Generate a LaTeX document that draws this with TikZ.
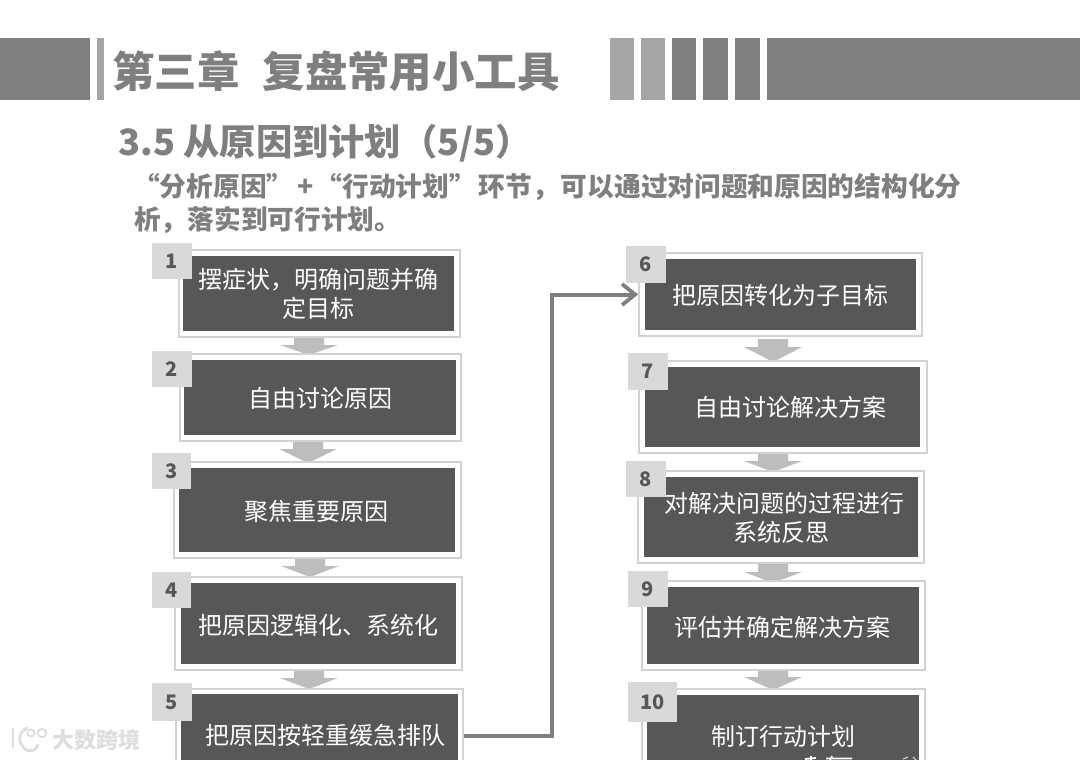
\documentclass[tikz,border=0pt]{standalone}
\usepackage{fontspec}
\setmainfont{Noto Sans CJK SC}
\usetikzlibrary{arrows.meta,calc}
\definecolor{bandgray}{HTML}{7F7F7F}
\definecolor{lightband}{HTML}{A6A6A6}
\definecolor{innergray}{HTML}{575757}
\definecolor{numgray}{HTML}{D9D9D9}
\definecolor{edgegray}{HTML}{D2D2D2}
\definecolor{arrowgray}{HTML}{BDBDBD}
\definecolor{markgray}{HTML}{DEDEDE}
\newcommand{\fs}[1]{\fontsize{#1}{#1}\selectfont}
\tikzset{
  x=1pt,y=-1pt,
  band/.style={fill=bandgray,draw=none},
  lband/.style={fill=lightband,draw=none},
  headtext/.style={text=bandgray,font=\fs{42.4}\bfseries,anchor=west,inner sep=0},
  subtext/.style={text=bandgray,font=\fs{36.3}\bfseries,anchor=west,inner sep=0},
  bodytext/.style={text=bandgray,font=\fs{26.7}\bfseries,anchor=west,inner sep=0},
  outerbox/.style={fill=white,draw=edgegray,line width=1.8pt,inner sep=0},
  innerbox/.style={fill=innergray,draw=none,inner sep=0},
  numbox/.style={fill=numgray,draw=none,inner sep=0,text=innergray,font=\fs{20}\bfseries},
  boxtext/.style={text=white,font=\fs{24},inner sep=0,align=center},
  blockarrow/.style={fill=arrowgray,draw=none},
  conn/.style={draw=bandgray,line width=4pt,-{Straight Barb[length=13pt,width=21pt,line width=3.8pt]}},
}
\newcommand{\stepboxat}[9]{%
  \node[outerbox,minimum width={(#4-#2)*1pt},minimum height={(#5-#3)*1pt}] (o#1) at ({(#2+#4)/2},{(#3+#5)/2}) {};
  \node[innerbox,minimum width={(#8-#6)*1pt},minimum height={(#9-#7)*1pt}] (i#1) at ({(#6+#8)/2},{(#7+#9)/2}) {};
}
\newcommand{\numat}[6]{%
  \node[numbox,minimum width={(#4-#2)*1pt},minimum height={(#5-#3)*1pt}] (n#1) at ({(#2+#4)/2},{(#3+#5)/2}) {#6};
}
\newcommand{\blockat}[5]{%
  \fill[blockarrow] ({#1-#2},#3) -- ({#1+#2},#3) -- ({#1+#2},#4) -- ({#1+29},#4) -- (#1,#5) -- ({#1-29},#4) -- ({#1-#2},#4) -- cycle;
}
\begin{document}
\begin{tikzpicture}
\useasboundingbox (0,0) rectangle (1080,760);
\clip (0,0) rectangle (1080,760);
\fill[white] (0,0) rectangle (1080,760);
% header
\fill[band] (0,38) rectangle (90,100);
\fill[lband] (97,38) rectangle (104,100);
\fill[lband] (610,38) rectangle (634,100);
\fill[lband] (641,38) rectangle (665,100);
\fill[band] (672,38) rectangle (696,100);
\fill[band] (703,38) rectangle (728,100);
\fill[band] (735,38) rectangle (760,100);
\fill[band] (766.5,38) rectangle (1080,100);
\node[headtext] (title) at (112,71) {第三章\hspace{0.55em}复盘常用小工具};
\node[subtext] (sub) at (118,143) {3.5 从原因到计划（5/5）};
\node[bodytext] (body1) at (133,187) {“分析原因”\hspace{4pt}+\hspace{2pt}“行动计划”\hspace{3pt}环节，\hspace{2pt}可以通过对问题和原因的结构化分};
\node[bodytext] (body2) at (134,220) {析，落实到可行计划。};
% block arrows
\blockat{309}{15}{337}{345}{355}
\blockat{308}{15}{441}{449}{463}
\blockat{310}{15}{558}{566}{577}
\blockat{309}{15}{670}{678}{689}
\blockat{773}{15}{339}{347}{362}
\blockat{773}{15}{453}{461}{472}
\blockat{773}{15}{563}{572}{583}
\blockat{773}{15}{670}{677}{690}
% boxes
\stepboxat{1}{179}{250}{460}{337}{183}{256}{454}{331}
\stepboxat{2}{180}{354}{461}{441}{184}{360}{456}{435}
\stepboxat{3}{174}{462}{461}{558}{179}{468}{455}{552}
\stepboxat{4}{175}{577}{462}{670}{181}{583}{456}{664}
\stepboxat{5}{176}{689}{463}{783}{181}{694}{458}{778}
\stepboxat{6}{639}{253}{922}{336}{645}{259}{916}{330}
\stepboxat{7}{639}{361}{927}{453}{645}{367}{920}{447}
\stepboxat{8}{638}{471}{924}{563}{644}{477}{918}{557}
\stepboxat{9}{642}{581}{925}{670}{647}{587}{919}{664}
\stepboxat{10}{642}{689}{925}{790}{647}{695}{919}{784}
% numbers
\numat{1}{152}{243}{192}{279}{1}
\numat{2}{152}{351}{192}{387}{2}
\numat{3}{152}{453}{191}{489}{3}
\numat{4}{152}{572}{191}{608}{4}
\numat{5}{152}{683}{192}{721}{5}
\numat{6}{626}{246}{666}{283}{6}
\numat{7}{628}{353}{668}{390}{7}
\numat{8}{626}{461}{666}{497}{8}
\numat{9}{628}{571}{668}{607}{9}
\numat{10}{628}{682}{677}{722}{10}
% texts
\node[boxtext] (t1a) at (318,280) {摆症状，明确问题并确};
\node[boxtext] (t1b) at (318,308) {定目标};
\node[boxtext] (t2) at (320,398) {自由讨论原因};
\node[boxtext] (t3) at (316,511) {聚焦重要原因};
\node[boxtext] (t4) at (318,625) {把原因逻辑化、系统化};
\node[boxtext] (t5) at (325,735) {把原因按轻重缓急排队};
\node[boxtext] (t6) at (780,295) {把原因转化为子目标};
\node[boxtext] (t7) at (790,407) {自由讨论解决方案};
\node[boxtext] (t8a) at (784,503) {对解决问题的过程进行};
\node[boxtext] (t8b) at (781,532) {系统反思};
\node[boxtext] (t9) at (782,627) {评估并确定解决方案};
\node[boxtext] (t10) at (783,736) {制订行动计划};
% connector
\coordinate (turn) at (552,294.5);
\draw[conn] (o5.east) -- (o5.east -| turn) -- (turn) -- (o6.west);
% clipped fragment at the bottom edge
\draw[white,line width=1.8pt] (805,759) -- (816,758) (811,756) -- (811,760) (826,758.5) -- (852,758.5) (832,756) -- (830,760);
\draw[white!70!innergray,line width=1.2pt] (903,759) -- (908,757) (913,757) -- (916,760);
% watermark
\node[text=markgray,font=\fs{22}\bfseries,anchor=west,inner sep=0] (mark) at (52,740) {大数跨境};
\draw[markgray,line width=2.8pt,line cap=round] (13,729) -- (13,747);
\draw[markgray,line width=2.8pt,line cap=round] (27,728) .. controls (18,733) and (17,742) .. (26,750) .. controls (32,752) and (36,750) .. (38,745);
\draw[markgray,line width=1.8pt] (31,733) circle (3.6);
\draw[markgray,line width=1.8pt] (42,733) circle (4.2);
\end{tikzpicture}
\end{document}
